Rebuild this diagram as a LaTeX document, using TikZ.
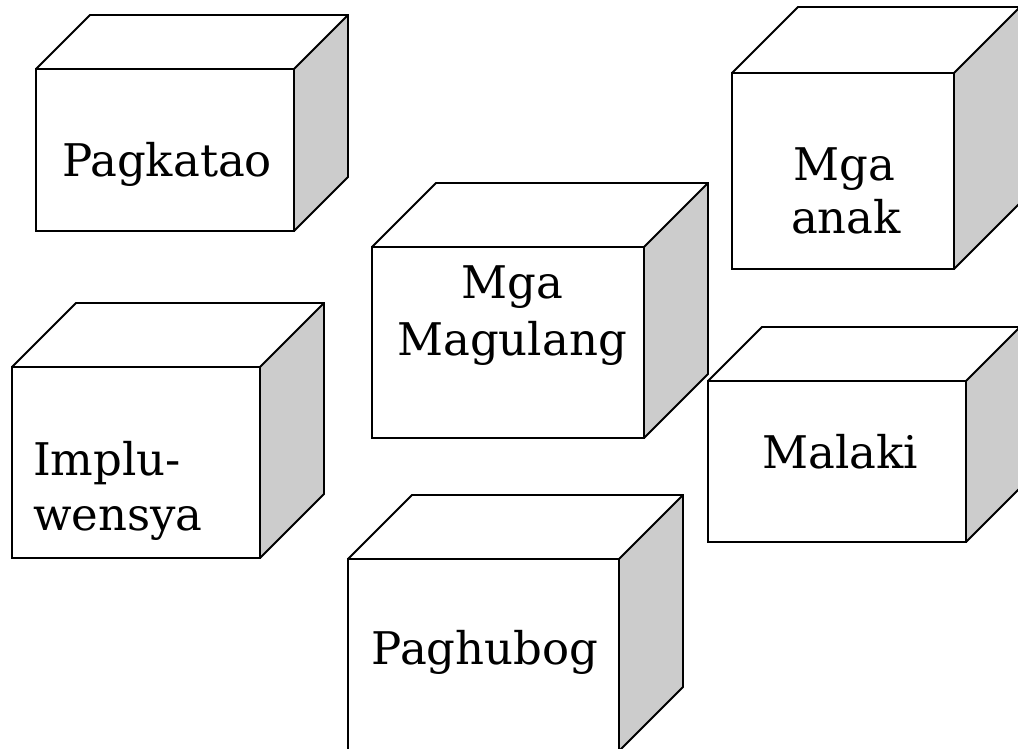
\documentclass[tikz,border=0pt]{standalone}
\usepackage{fontspec}
\setmainfont{DejaVu Serif}
\definecolor{sidegray}{HTML}{CCCCCC}
\tikzset{
  cubeline/.style={draw=black, line width=1.8pt, line join=miter},
  lbl/.style={anchor=base, inner sep=0pt, font=\fontsize{45}{55}\selectfont},
  lblleft/.style={anchor=base west, inner sep=0pt, font=\fontsize{45}{55}\selectfont}
}
\newcommand\mycube[5]{%
  \fill[white] (#1,#2) rectangle ++(#3,#4);
  \fill[white] (#1,#2) -- ++(#5,-#5) -- ++(#3,0) -- ++(-#5,#5) -- cycle;
  \fill[sidegray] (#1+#3,#2) -- ++(#5,-#5) -- ++(0,#4) -- ++(-#5,#5) -- cycle;
  \draw[cubeline] (#1,#2) rectangle ++(#3,#4);
  \draw[cubeline] (#1,#2) -- ++(#5,-#5) -- ++(#3,0) -- ++(0,#4) -- ++(-#5,#5);
  \draw[cubeline] (#1+#3,#2) -- ++(#5,-#5);
}
\begin{document}
\begin{tikzpicture}[x=1pt, y=-1pt]
  \useasboundingbox (0,0) rectangle (1018,748);
  \clip (0,0) rectangle (1018,748);
  \fill[white] (0,0) rectangle (1018,748);
  % cubes
  \mycube{36}{69}{258}{162}{54}
  \mycube{732}{73}{222}{196}{66}
  \mycube{372}{247}{272}{191}{64}
  \mycube{12}{367}{248}{191}{64}
  \mycube{708}{381}{258}{161}{54}
  \mycube{348}{559}{271}{192}{64}
  % labels
  \node[lbl] (pagkatao) at (167,176) {Pagkatao};
  \node[lbl] (mga1) at (844,180) {Mga};
  \node[lbl] (anak) at (846,233) {anak};
  \node[lbl] (mga2) at (512,298) {Mga};
  \node[lbl] (magulang) at (512,355) {Magulang};
  \node[lblleft] (implu) at (33,475) {Implu-};
  \node[lblleft] (wensya) at (33,530) {wensya};
  \node[lbl] (malaki) at (840,468) {Malaki};
  \node[lbl] (paghubog) at (485,664) {Paghubog};
\end{tikzpicture}
\end{document}
